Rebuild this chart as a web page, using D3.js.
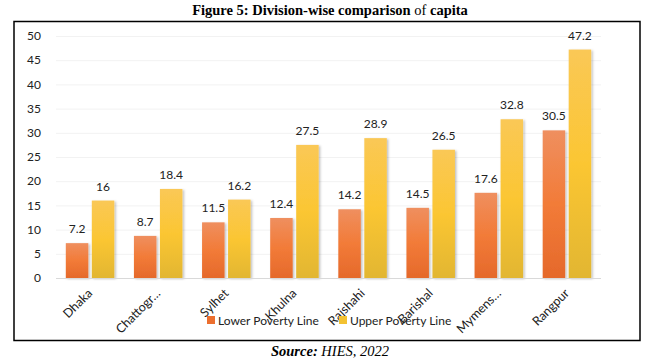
<!DOCTYPE html>
<html>
<head>
<meta charset="utf-8">
<style>
  body { margin: 0; background: #fff; }
</style>
</head>
<body>
<svg width="660" height="363" viewBox="0 0 660 363"></svg>
<script src="https://d3js.org/d3.v7.min.js"></script>
<script>
const divisions = ['Dhaka', 'Chattogr…', 'Sylhet', 'Khulna', 'Rajshahi', 'Barishal', 'Mymens…', 'Rangpur'];
const lowerLine = [7.2, 8.7, 11.5, 12.4, 14.2, 14.5, 17.6, 30.5];
const upperLine = [16, 18.4, 16.2, 27.5, 28.9, 26.5, 32.8, 47.2];
const seriesNames = ['Lower Poverty Line', 'Upper Poverty Line'];
const yTicks = [0, 5, 10, 15, 20, 25, 30, 35, 40, 45, 50];

const svg = d3.select('svg');
const font = 'Lato, "Open Sans", sans-serif';

// gradients for the two series
const defs = svg.append('defs');
const grads = [
  { id: 'gLow', stops: [['0%', '#ef8f5f'], ['50%', '#f27b38'], ['100%', '#e5692b']] },
  { id: 'gUp', stops: [['0%', '#fac856'], ['50%', '#fbc633'], ['100%', '#e2b631']] }
];
grads.forEach(g => {
  const lg = defs.append('linearGradient')
    .attr('id', g.id).attr('x1', 0).attr('y1', 0).attr('x2', 0).attr('y2', 1);
  g.stops.forEach(s => lg.append('stop').attr('offset', s[0]).attr('stop-color', s[1]));
});
const shadow = defs.append('filter').attr('id', 'sh')
  .attr('x', '-20%').attr('y', '-5%').attr('width', '150%').attr('height', '115%');
shadow.append('feDropShadow').attr('dx', 1.5).attr('dy', 1).attr('stdDeviation', 1.2)
  .attr('flood-color', '#000').attr('flood-opacity', 0.25);

// title
const title = svg.append('text')
  .attr('x', 330).attr('y', 15)
  .attr('text-anchor', 'middle')
  .attr('font-family', '"Liberation Serif", serif')
  .attr('font-size', '14.5px')
  .attr('font-weight', 'bold');
title.append('tspan').text('Figure 5: Division-wise comparison ');
title.append('tspan').attr('font-weight', 'normal').text('of');
title.append('tspan').text(' capita');

// border
svg.append('rect')
  .attr('x', 14).attr('y', 21.5).attr('width', 626).attr('height', 319)
  .attr('fill', 'none').attr('stroke', '#000').attr('stroke-width', 1.5);

const x = d3.scaleBand().domain(divisions).range([56, 601]);
const y = d3.scaleLinear().domain([0, 50]).range([278, 36]);

// gridlines
svg.append('g').selectAll('line').data(yTicks.slice(1)).join('line')
  .attr('x1', 56).attr('x2', 601)
  .attr('y1', d => y(d) + 0.5).attr('y2', d => y(d) + 0.5)
  .attr('stroke', '#f2f2f2');

// y axis labels
svg.append('g').selectAll('text').data(yTicks).join('text')
  .attr('x', 41).attr('y', d => y(d))
  .attr('dy', '0.35em')
  .attr('text-anchor', 'end')
  .attr('font-family', font).attr('font-size', '12px').attr('fill', '#222')
  .text(d => d);

const barW = 22.5, gap = 3.5;
const series = [lowerLine, upperLine];
const fills = ['url(#gLow)', 'url(#gUp)'];

series.forEach((vals, s) => {
  const off = x.bandwidth() / 2 - gap / 2 - barW + s * (barW + gap);
  const g = svg.append('g');
  g.selectAll('rect').data(vals).join('rect')
    .attr('x', (d, i) => x(divisions[i]) + off)
    .attr('y', d => y(d))
    .attr('width', barW)
    .attr('height', d => y(0) - y(d))
    .attr('fill', fills[s])
    .attr('filter', 'url(#sh)');
  g.selectAll('text').data(vals).join('text')
    .attr('x', (d, i) => x(divisions[i]) + off + barW / 2)
    .attr('y', d => y(d) - 10)
    .attr('text-anchor', 'middle')
    .attr('font-family', font).attr('font-size', '12px').attr('fill', '#222')
    .text(d => d);
});

// baseline
svg.append('line')
  .attr('x1', 56).attr('x2', 601).attr('y1', y(0) + 0.5).attr('y2', y(0) + 0.5)
  .attr('stroke', '#d9d9d9');

// x labels
svg.append('g').selectAll('text').data(divisions).join('text')
  .attr('transform', d => `translate(${x(d) + x.bandwidth() / 2 + 3},${y(0) + 16}) rotate(-45)`)
  .attr('text-anchor', 'end')
  .attr('font-family', font).attr('font-size', '12.5px').attr('fill', '#222')
  .text(d => d);

// legend
const legendColors = ['#ec6f2e', '#f3c232'];
const legendX = [207, 339];
const lg = svg.append('g');
seriesNames.forEach((n, i) => {
  lg.append('rect').attr('x', legendX[i]).attr('y', 316).attr('width', 8).attr('height', 8)
    .attr('fill', legendColors[i]);
  lg.append('text').attr('x', legendX[i] + 11).attr('y', 320.5).attr('dy', '0.35em')
    .attr('font-family', font).attr('font-size', '12px').attr('fill', '#222')
    .text(n);
});

// source
const src = svg.append('text')
  .attr('x', 330).attr('y', 356)
  .attr('text-anchor', 'middle')
  .attr('font-family', '"Liberation Serif", serif')
  .attr('font-size', '14.5px')
  .attr('font-style', 'italic');
src.append('tspan').attr('font-weight', 'bold').text('Source:');
src.append('tspan').text(' HIES, 2022');
</script>
</body>
</html>
